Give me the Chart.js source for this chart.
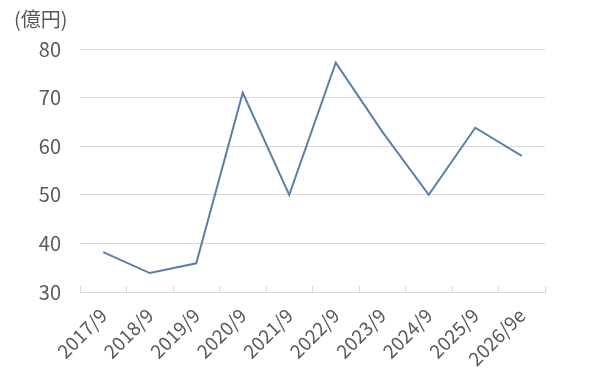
<!DOCTYPE html>
<html>
<head>
<meta charset="utf-8">
<script src="https://cdn.jsdelivr.net/npm/chart.js@4"></script>
<style>
  html, body { margin: 0; padding: 0; background: #fff; }
  #wrap { width: 600px; height: 390px; position: relative; }
</style>
</head>
<body>
<div id="wrap"><canvas id="chart"></canvas></div>
<script>
// Data
const years = ["2017/9", "2018/9", "2019/9", "2020/9", "2021/9", "2022/9", "2023/9", "2024/9", "2025/9", "2026/9e"];
const profit = [38.2, 33.9, 35.9, 71.0, 50.0, 77.2, 63.0, 50.0, 63.8, 58.0];
const unitLabel = "(億円)";

const fontFamily = "'Noto Sans CJK JP', 'Noto Sans', sans-serif";
const textColor = "#595959";
const gridColor = "#d9d9d9";

// Unit label at top-left
const unitPlugin = {
  id: "unitLabel",
  afterDraw(chart) {
    const ctx = chart.ctx;
    ctx.save();
    ctx.font = "20px " + fontFamily;
    ctx.fillStyle = textColor;
    ctx.textAlign = "left";
    ctx.textBaseline = "middle";
    ctx.fillText(unitLabel, 14, 19);
    ctx.restore();
  },
};

new Chart(document.getElementById("chart"), {
  type: "line",
  data: {
    labels: years,
    datasets: [
      {
        data: profit,
        borderColor: "#5a7fa8",
        borderWidth: 2,
        pointRadius: 0,
        tension: 0,
        fill: false,
      },
    ],
  },
  options: {
    responsive: true,
    maintainAspectRatio: false,
    animation: false,
    layout: { padding: { top: 49, right: 55, left: 0, bottom: 0 } },
    plugins: {
      legend: { display: false },
      tooltip: { enabled: false },
    },
    scales: {
      x: {
        offset: true,
        grid: {
          offset: true,
          drawOnChartArea: false,
          drawTicks: true,
          tickLength: -6,
          color: gridColor,
        },
        border: { color: gridColor },
        ticks: {
          color: textColor,
          font: { family: fontFamily, size: 19 },
          maxRotation: 45,
          minRotation: 45,
          padding: 18,
          autoSkip: false,
        },
        afterFit(scale) { scale.height = 98; },
      },
      y: {
        min: 30,
        max: 80,
        grid: { color: gridColor, drawTicks: false },
        border: { display: false },
        ticks: {
          stepSize: 10,
          color: textColor,
          font: { family: fontFamily, size: 20 },
          padding: 19,
        },
        afterFit(scale) { scale.width = 80; },
      },
    },
  },
  plugins: [unitPlugin],
});
</script>
</body>
</html>
